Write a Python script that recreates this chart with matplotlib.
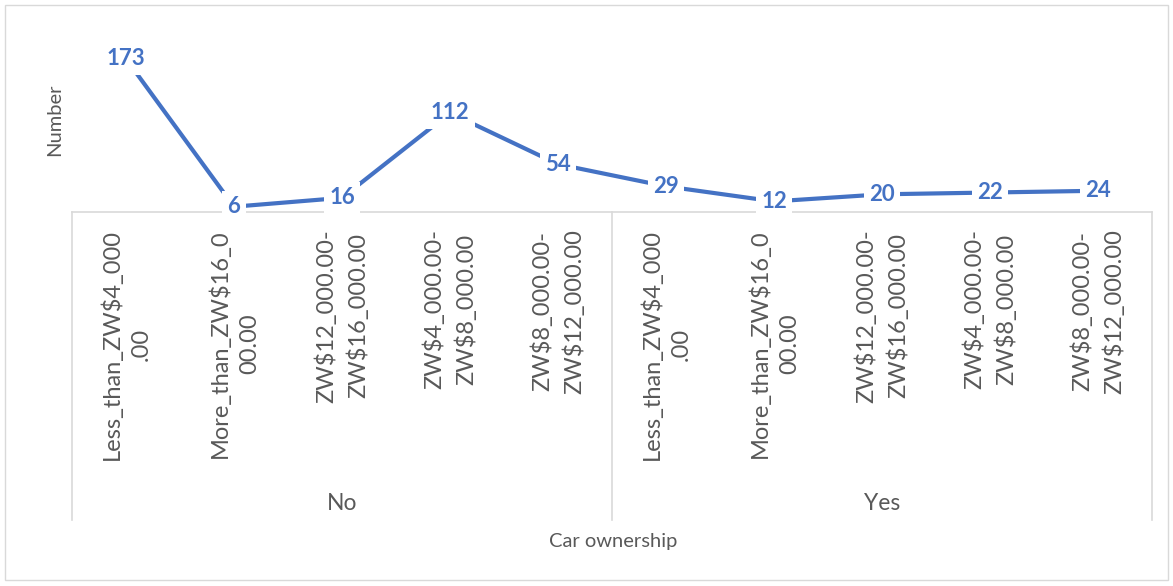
import matplotlib
matplotlib.use('Agg')
import matplotlib.pyplot as plt
from matplotlib.patches import Rectangle
from matplotlib.lines import Line2D

# data
groups = ['No', 'Yes']
income_bands = ['Less_than_ZW$4_000\n.00',
                'More_than_ZW$16_0\n00.00',
                'ZW$12_000.00-\nZW$16_000.00',
                'ZW$4_000.00-\nZW$8_000.00',
                'ZW$8_000.00-\nZW$12_000.00']
counts_no = [173, 6, 16, 112, 54]
counts_yes = [29, 12, 20, 22, 24]

values = counts_no + counts_yes
labels = income_bands * len(groups)
x = list(range(len(values)))

blue = '#4472C4'
grey_text = '#595959'
grey_line = '#D9D9D9'
plt.rcParams['font.family'] = ['Lato', 'DejaVu Sans']

W, H = 1173, 586
fig = plt.figure(figsize=(W / 100, H / 100), dpi=100)

# plot area in pixels (left, top, right, bottom of the value area)
px_l, px_t, px_r, px_b = 72, 35, 1152, 212
ax = fig.add_axes([px_l / W, 1 - px_b / H, (px_r - px_l) / W, (px_b - px_t) / H])
ax.set_xlim(-0.5, len(values) - 0.5)
ax.set_ylim(0, 200)
for s in ['top', 'right', 'left']:
    ax.spines[s].set_visible(False)
ax.spines['bottom'].set_color(grey_line)
ax.spines['bottom'].set_linewidth(1.2)
ax.set_xticks([]); ax.set_yticks([])

ax.plot(x, values, color=blue, lw=3, solid_capstyle='butt', zorder=2)
for xi, v in zip(x, values):
    ax.text(xi, v, str(v), ha='center', va='center', color=blue,
            fontsize=16, fontweight='bold', zorder=3,
            bbox=dict(boxstyle='square,pad=0.25', fc='white', ec='none'))

# multi-level category axis
ah = px_b - px_t
def ay(py):
    return -(py - px_b) / ah

trans = ax.get_xaxis_transform()
for xi, lab in zip(x, labels):
    ax.text(xi, ay(229), lab, rotation=90, ha='center', va='top',
            multialignment='center', linespacing=1.5, color=grey_text,
            fontsize=17, transform=trans, clip_on=False)

n = len(income_bands)
for gi, g in enumerate(groups):
    ax.text(gi * n + (n - 1) / 2, ay(504), g, ha='center', va='center',
            color=grey_text, fontsize=16.5, transform=trans, clip_on=False)
for b in range(len(groups) + 1):
    ax.add_line(Line2D([b * n - 0.5, b * n - 0.5], [0, ay(520)], color=grey_line,
                       lw=1.2, transform=trans, clip_on=False))

fig.text(613 / W, 1 - 541 / H, 'Car ownership', ha='center', va='center',
         color=grey_text, fontsize=14.5)
fig.text(55 / W, 1 - 120 / H, 'Number', rotation=90, ha='center', va='center',
         color=grey_text, fontsize=14.5)

# chart border
fig.patches.append(Rectangle((5 / W, 6 / H), 1 - 10 / W, 1 - 11 / H, transform=fig.transFigure,
                             fill=False, ec=grey_line, lw=1))

fig.savefig('out.png', dpi=100)
